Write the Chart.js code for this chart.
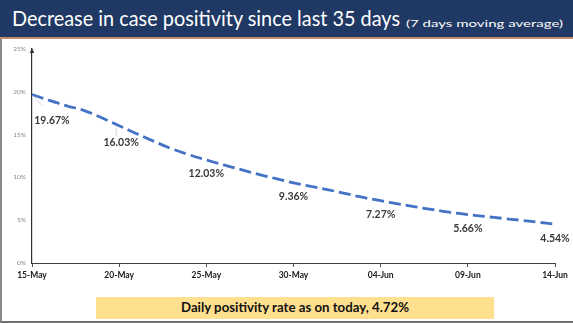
<!DOCTYPE html>
<html>
<head>
<meta charset="utf-8">
<script src="https://cdn.jsdelivr.net/npm/chart.js@4"></script>
<style>
  html, body { margin: 0; padding: 0; background: #fff; }
  #slide { position: relative; width: 573px; height: 323px; overflow: hidden; background: #fff; font-family: Lato, "Open Sans", sans-serif; }
  #bar { position: absolute; left: 0; top: 0; width: 573px; height: 37px; background: #1f3864; border-bottom: 2px solid #c58a6a; }
  #title { position: absolute; left: 12px; top: 7px; color: #fff; font-size: 22px; line-height: 22px; white-space: nowrap; transform-origin: 0 0; }
  #sub { position: absolute; left: 406px; top: 18px; color: #fff; font-size: 10px; line-height: 10px; white-space: nowrap; transform-origin: 0 0; }
  #frame { position: absolute; left: 0; top: 39px; width: 571px; height: 282px; border-left: 2px solid #8a8a8a; border-bottom: 2px solid #6f6f6f; }
  #chartbox { position: absolute; left: 0; top: 39px; width: 573px; height: 250px; }
  #note { position: absolute; left: 96px; top: 297px; width: 398px; height: 22px; background: #ffe08f; }
  #noteText { position: absolute; left: 181px; top: 301px; font-weight: bold; font-size: 13px; line-height: 13px; color: #111; white-space: nowrap; transform-origin: 0 0; }
</style>
</head>
<body>
<div id="slide">
  <div id="bar"></div>
  <div id="title">Decrease in case positivity since last 35 days</div>
  <div id="sub">(7 days moving average)</div>
  <div id="frame"></div>
  <div id="chartbox"><canvas id="c" width="573" height="250"></canvas></div>
  <div id="note"></div>
  <div id="noteText">Daily positivity rate as on today, 4.72%</div>
</div>
<script>
// Dates, 15 May to 14 Jun
const dates = [
  '15-May','16-May','17-May','18-May','19-May','20-May','21-May','22-May','23-May','24-May',
  '25-May','26-May','27-May','28-May','29-May','30-May','31-May','01-Jun','02-Jun','03-Jun',
  '04-Jun','05-Jun','06-Jun','07-Jun','08-Jun','09-Jun','10-Jun','11-Jun','12-Jun','13-Jun','14-Jun'
];
// 7-day moving average of case positivity (%)
const positivity = [
  19.67, 18.98, 18.35, 17.80, 16.95, 16.03, 15.10, 14.20, 13.35, 12.65,
  12.03, 11.45, 10.90, 10.35, 9.85, 9.36, 8.95, 8.55, 8.10, 7.65,
  7.27, 6.90, 6.55, 6.22, 5.92, 5.66, 5.43, 5.21, 5.00, 4.77, 4.54
];
// Dates that carry a value label
const labelledDates = ['15-May','20-May','25-May','30-May','04-Jun','09-Jun','14-Jun'];
const yTicks = [0, 5, 10, 15, 20, 25];

// fit text runs to their slots
function fitWidth(id, target) {
  const el = document.getElementById(id);
  const w = el.getBoundingClientRect().width;
  if (w > 0) el.style.transform = 'scaleX(' + (target / w) + ')';
}
fitWidth('title', 388);
fitWidth('sub', 157);
fitWidth('noteText', 228);

const labelPlugin = {
  id: 'valueLabels',
  afterDatasetsDraw(chart) {
    const ctx = chart.ctx;
    const meta = chart.getDatasetMeta(0);
    const ds = chart.data.datasets[0];
    ctx.save();
    ctx.font = 'bold 10.5px Lato, "Open Sans", sans-serif';
    ctx.fillStyle = '#3a3a3a';
    ctx.textAlign = 'center';
    ctx.textBaseline = 'middle';
    labelledDates.forEach((d, k) => {
      const i = chart.data.labels.indexOf(d);
      const pt = meta.data[i];
      let dx = 0, dy = 14;
      if (k === 0) { dx = 20; dy = 26; }
      if (k === 1) { dx = 2; dy = 17; }
      if (k === 0 || k === 1) {
        ctx.strokeStyle = '#c8c8c8';
        ctx.lineWidth = 0.8;
        ctx.beginPath();
        if (k === 0) { ctx.moveTo(pt.x + 1, pt.y + 1); ctx.lineTo(pt.x + 11, pt.y + 12); }
        else { ctx.moveTo(pt.x - 3, pt.y + 2); ctx.lineTo(pt.x - 3, pt.y + 10); }
        ctx.stroke();
      }
      ctx.fillText(ds.data[i].toFixed(2) + '%', pt.x + dx, pt.y + dy);
    });
    ctx.restore();
  },
  afterDraw(chart) {
    // arrowhead on top of the value axis
    const ctx = chart.ctx;
    const x = chart.scales.y.right;
    const top = chart.chartArea.top;
    ctx.save();
    ctx.fillStyle = '#303030';
    ctx.beginPath();
    ctx.moveTo(x, top - 1);
    ctx.lineTo(x - 2.2, top + 4);
    ctx.lineTo(x + 2.2, top + 4);
    ctx.closePath();
    ctx.fill();
    ctx.restore();
  }
};

new Chart(document.getElementById('c'), {
  type: 'line',
  data: {
    labels: dates,
    datasets: [{
      data: positivity,
      borderColor: '#4472c4',
      borderWidth: 2.8,
      borderDash: [12, 5],
      borderCapStyle: 'butt',
      pointRadius: 0,
      tension: 0.4,
      fill: false
    }]
  },
  options: {
    responsive: false,
    animation: false,
    layout: { padding: { left: 0, right: 18, top: 9, bottom: 0 } },
    plugins: { legend: { display: false }, tooltip: { enabled: false } },
    scales: {
      x: {
        offset: false,
        afterFit(s) { s.height = 26; },
        border: { display: true, color: '#404040', width: 1 },
        grid: {
          display: true,
          drawOnChartArea: false,
          drawTicks: true,
          tickLength: 4,
          color: (c) => (c.index % 5 === 0 ? '#505050' : 'rgba(0,0,0,0)')
        },
        ticks: {
          autoSkip: false,
          maxRotation: 0,
          padding: 3,
          color: '#1a1a1a',
          font: { family: 'Lato, "Open Sans", sans-serif', size: 8.5, weight: 'bold' },
          callback: (v, i) => (i % 5 === 0 ? dates[i] : '')
        }
      },
      y: {
        min: yTicks[0],
        max: yTicks[yTicks.length - 1],
        afterFit(s) { s.width = 32; },
        afterBuildTicks(s) { s.ticks = yTicks.map(v => ({ value: v })); },
        border: { display: true, color: '#303030', width: 1.2 },
        grid: { display: false, drawTicks: false },
        ticks: {
          padding: 6,
          color: '#8a8a8a',
          font: { family: 'Lato, "Open Sans", sans-serif', size: 6.5 },
          callback: (v) => v + '%'
        }
      }
    }
  },
  plugins: [labelPlugin]
});
</script>
</body>
</html>
